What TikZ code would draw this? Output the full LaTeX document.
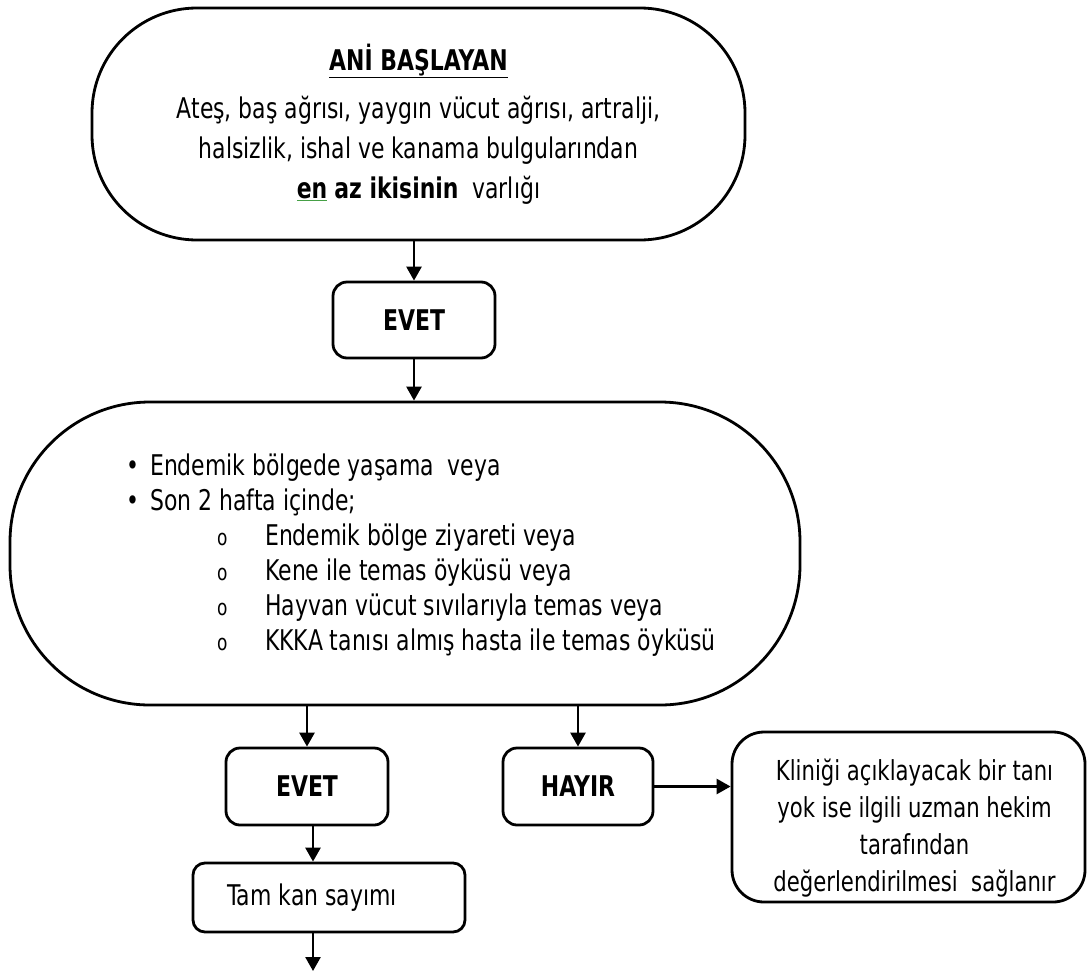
\documentclass[tikz,border=0pt]{standalone}
\usepackage{fontspec}
\setmainfont{DejaVu Sans}[FakeStretch=0.77]
\usetikzlibrary{arrows.meta}
\definecolor{spellgreen}{RGB}{70,160,70}
\begin{document}
\begin{tikzpicture}[x=1pt,y=-1pt,
  frame/.style={draw, line width=2.8pt, inner sep=0pt},
  tx/.style={font=\fontsize{28.5}{40}\selectfont},
  arr/.style={line width=2.6pt, -{Triangle[width=15pt,length=14pt]}},
]
\useasboundingbox (0,0) rectangle (1091,972);

\node[frame, tx, rounded corners=105pt, minimum width=653pt, minimum height=232pt, align=center] (q1) at (418.5,124)
  {\textbf{\underline{ANİ BAŞLAYAN}}\\[8pt]
   Ateş, baş ağrısı, yaygın vücut ağrısı, artralji,\\
   halsizlik, ishal ve kanama bulgularından\\
   \textcolor{spellgreen}{\underline{\textcolor{black}{\textbf{en}}}} \textbf{az ikisinin}~~varlığı};

\node[frame, tx, rounded corners=14pt, minimum width=162pt, minimum height=76pt] (e1) at (414,320) {\textbf{EVET}};

\node[frame, rounded corners=140pt, minimum width=790pt, minimum height=303pt] (q2) at (405,553.5) {};
\node[anchor=west, align=left, inner sep=0pt, font=\fontsize{28.5}{35}\selectfont] (q2t) at (126,555)
  {\makebox[24pt][l]{•}Endemik bölgede yaşama~ veya\\
   \makebox[24pt][l]{•}Son 2 hafta içinde;\\
   \hspace*{91pt}\makebox[48pt][l]{\fontsize{22}{22}\selectfont o}Endemik bölge ziyareti veya\\
   \hspace*{91pt}\makebox[48pt][l]{\fontsize{22}{22}\selectfont o}Kene ile temas öyküsü veya\\
   \hspace*{91pt}\makebox[48pt][l]{\fontsize{22}{22}\selectfont o}Hayvan vücut sıvılarıyla temas veya\\
   \hspace*{91pt}\makebox[48pt][l]{\fontsize{22}{22}\selectfont o}KKKA tanısı almış hasta ile temas öyküsü};

\node[frame, tx, rounded corners=14pt, minimum width=162pt, minimum height=77pt] (e2) at (307,786.5) {\textbf{EVET}};
\node[frame, tx, rounded corners=14pt, minimum width=150pt, minimum height=77pt] (h) at (578,786.5) {\textbf{HAYIR}};

\node[frame, rounded corners=32pt, minimum width=353pt, minimum height=170pt, align=center, font=\fontsize{27.5}{37}\selectfont] (r) at (908.5,817)
  {\rule{0pt}{43pt}\hspace*{12pt}Kliniği açıklayacak bir tanı\\
   \hspace*{12pt}yok ise ilgili uzman hekim\\
   \hspace*{12pt}tarafından\\
   \hspace*{12pt}değerlendirilmesi~ sağlanır};

\node[frame, tx, rounded corners=12pt, minimum width=272pt, minimum height=69pt] (tk) at (329,897.5) {\hspace*{-34pt}Tam kan sayımı};

\coordinate (end) at (313,971);

\draw[arr] (q1.south -| e1.north) -- (e1.north);
\draw[arr] (e1.south) -- (e1.south |- q2.north);
\draw[arr] (e2.north |- q2.south) -- (e2.north);
\draw[arr] (h.north |- q2.south) -- (h.north);
\draw[arr] (h.east) -- (h.east -| r.west);
\draw[arr] ([xshift=6pt]e2.south) -- ([xshift=6pt]e2.south |- tk.north);
\draw[arr] (tk.south -| end) -- (end);
\end{tikzpicture}
\end{document}
